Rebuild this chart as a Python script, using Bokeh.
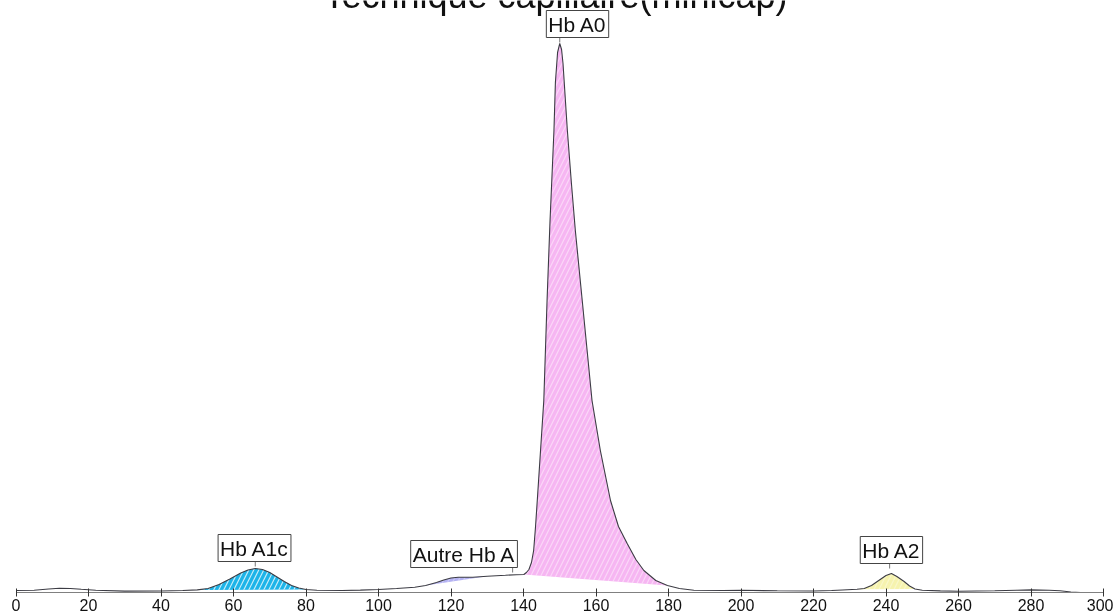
from bokeh.plotting import figure
from bokeh.models import Range1d, Label, LinearAxis, FixedTicker, ColumnDataSource
from bokeh.embed import file_html
from bokeh.resources import INLINE

# ---- data (migration time vs. absorbance) ----
x_pts = [0, 5, 9, 12, 15, 18, 22, 30, 40, 46, 50, 53, 56, 59, 62, 64, 66, 68, 70, 72, 74, 76, 78, 80, 83,
         90, 95, 100, 105, 110, 113, 116, 118, 120, 122, 124, 126, 128, 130, 135, 138,
         140.1, 140.8, 141.5, 142.2, 142.8, 143.3, 143.8, 144.7, 145.6, 146.5, 147.3, 147.9, 148.4, 148.8,
         149.4, 150, 150.5, 150.9, 152.1, 153.2, 154.3, 156.2, 158.9, 161.2, 164, 166.2, 168.6, 171, 173.2,
         176.5, 179.7, 183, 187, 195, 200, 210, 220, 225, 228, 232, 234, 236, 238, 240, 241.5, 243, 245,
         246.5, 248, 250, 255, 260, 270, 276, 280, 285, 288, 291, 295, 300]
y_pts = [2, 2.3, 3.5, 4.2, 4, 3.2, 2.2, 1.4, 1.5, 2, 2.6, 4, 8, 13.5, 19.5, 22.5, 24, 23, 20, 15.5, 11, 7, 4.5, 3, 2.2,
         2, 2.4, 3, 4, 5.3, 7, 10, 12.5, 14.5, 15.3, 15.2, 15.3, 15.8, 16.3, 17.2, 17.8,
         18, 20, 23, 30, 42, 65, 92, 142, 192, 292, 370, 420, 462, 510,
         540, 549, 543, 529, 462, 410, 362, 292, 192, 142, 92, 66, 49, 33, 22,
         12, 7, 4, 2.3, 2, 2.2, 1.7, 1.5, 2, 2.5, 3.2, 4, 7, 12, 17, 19, 16, 11,
         6.5, 3.5, 2.3, 1.6, 1.3, 1.7, 2.3, 2.6, 2.3, 1.7, 0.5, -0.3, -0.6]

peak_names = ["Hb A1c", "Autre Hb A", "Hb A0", "Hb A2"]
peak_start = [50, 113, 140.1, 232]
peak_end = [80, 130, 179.7, 248]
peak_colors = ["#1db4e8", "#b4b2f2", "#f6b6f2", "#f6f3ae"]
peak_hatch_alpha = [0.75, 0.3, 0.45, 0.35]

# label placement (annotation positions)
label_x = [65.8, 123.6, 154.9, 241.5]
label_bottom = [31, 25, 555, 29]
label_tick_x = [66, 137, 150, 241]

x_ticks = list(range(0, 301, 20))
title_text = "Technique capillaire(minicap)"

FONT = "Liberation Sans"

p = figure(width=1113, height=615, output_backend="svg", toolbar_location=None,
           x_range=Range1d(-15.5 / 3.625, (1113 - 15.5) / 3.625), y_range=Range1d(0, 592),
           min_border_left=0, min_border_right=0, min_border_top=0, min_border_bottom=23,
           x_axis_location=None, y_axis_location=None, outline_line_color=None,
           background_fill_color="white", border_fill_color="white",
           styles={"position": "fixed", "top": "0px", "left": "0px"})
p.grid.visible = False

# shaded peaks (polygon closed by a straight chord = integration baseline)
for name, s, e, c, ha in zip(peak_names, peak_start, peak_end, peak_colors, peak_hatch_alpha):
    xs = [x for x in x_pts if s <= x <= e]
    ys = [y for x, y in zip(x_pts, y_pts) if s <= x <= e]
    p.patch(xs, ys, fill_color=c, fill_alpha=1.0, line_color=None,
            hatch_pattern="/", hatch_color="white", hatch_alpha=ha, hatch_scale=10, hatch_weight=1.2)

# electropherogram trace
p.line(x_pts, y_pts, line_color="#3c3c44", line_width=1.1)

# label ticks and boxes
tick_src = ColumnDataSource(dict(x=label_tick_x, y0=label_bottom, y1=[b - 5 for b in label_bottom]))
p.segment(x0="x", y0="y0", x1="x", y1="y1", source=tick_src, line_color="#777777", line_width=1)
for name, lx, lb in zip(peak_names, label_x, label_bottom):
    p.add_layout(Label(x=lx, y=lb, text=name, text_align="center", text_baseline="bottom",
                       text_font=FONT, text_font_size="21px", text_color="#111111",
                       background_fill_color="white", border_line_color="#444444",
                       border_line_width=1, padding=2))

# title (partly outside the page, as in the source)
p.add_layout(Label(x=(555 - 15.5) / 3.625, y=597, text=title_text, text_align="center",
                   text_baseline="alphabetic", text_font=FONT, text_font_size="36px",
                   text_color="#111111"))

ax = LinearAxis(ticker=FixedTicker(ticks=x_ticks), bounds=(0, 300))
ax.axis_line_color = "#808080"
ax.axis_line_width = 1
ax.major_tick_in = 4
ax.major_tick_out = 4
ax.major_tick_line_color = "#333333"
ax.minor_tick_line_color = None
ax.major_label_standoff = 2
ax.major_label_text_font = FONT
ax.major_label_text_font_size = "16px"
ax.major_label_text_color = "#111111"
p.add_layout(ax, "below")

open("out.html", "w").write(file_html(p, INLINE))
